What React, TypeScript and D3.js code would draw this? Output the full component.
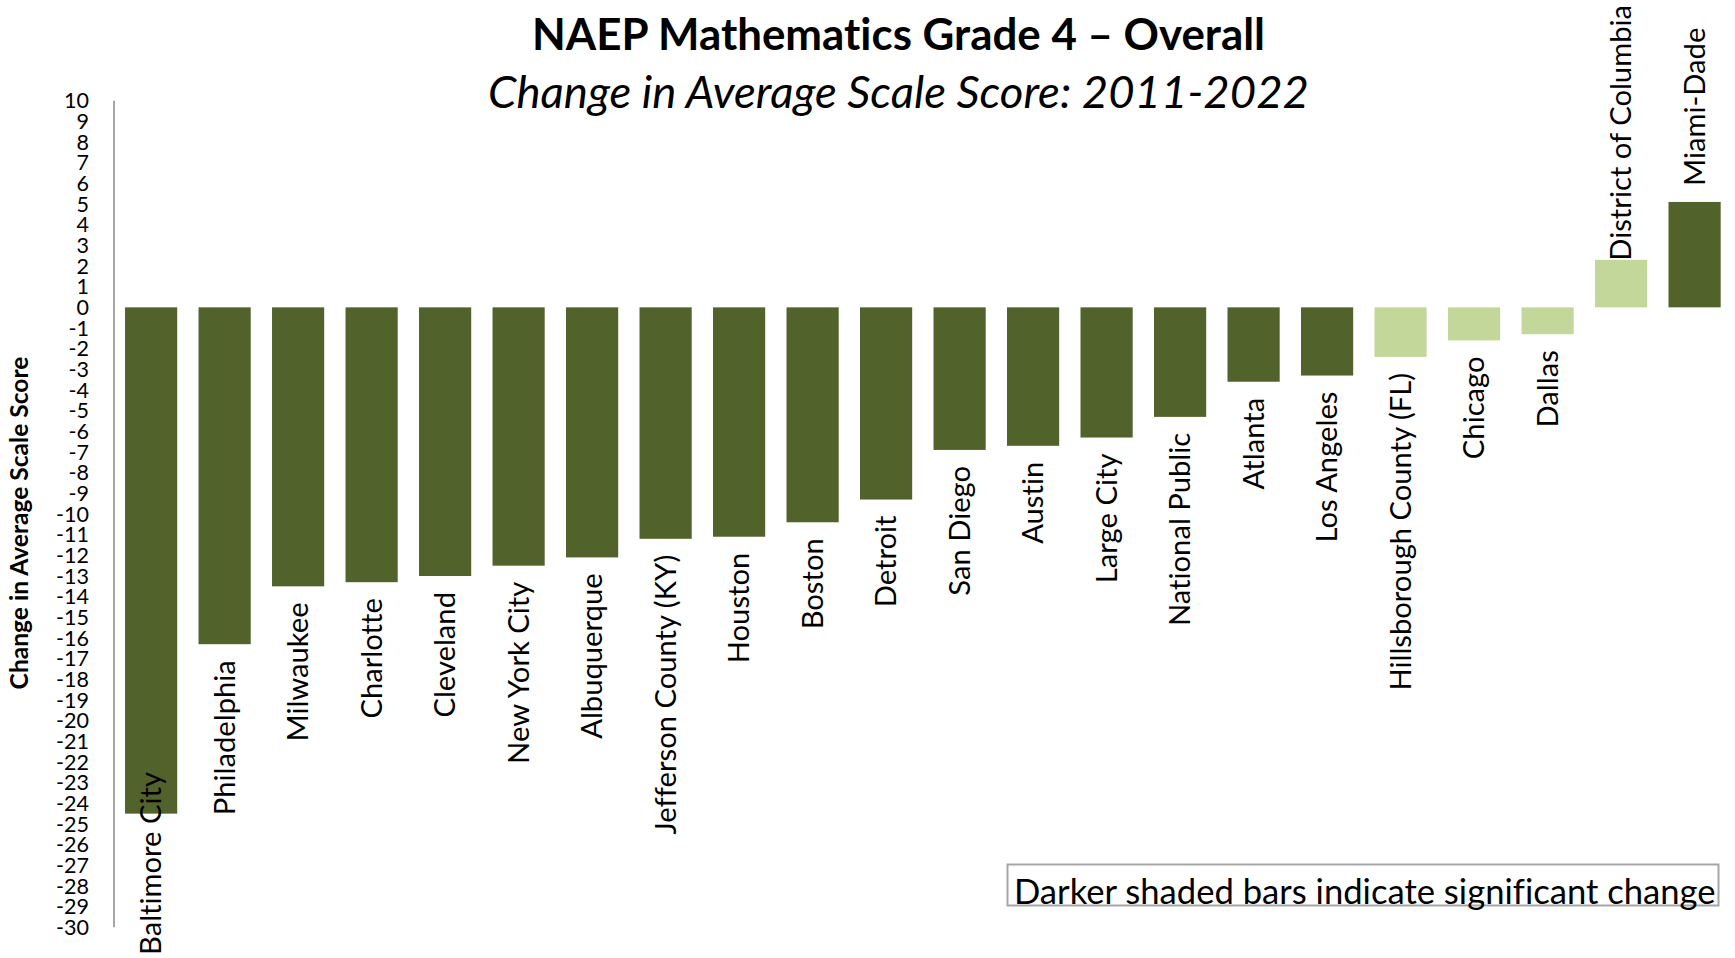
import { useRef, useEffect } from 'react';
import * as d3 from 'd3';

// districts, ordered as in the chart
const districts = [
  'Baltimore City', 'Philadelphia', 'Milwaukee', 'Charlotte', 'Cleveland',
  'New York City', 'Albuquerque', 'Jefferson County (KY)', 'Houston', 'Boston',
  'Detroit', 'San Diego', 'Austin', 'Large City', 'National Public', 'Atlanta',
  'Los Angeles', 'Hillsborough County (FL)', 'Chicago', 'Dallas',
  'District of Columbia', 'Miami-Dade'
];

// change in average scale score 2011-2022
const changes = [
  -24.5, -16.3, -13.5, -13.3, -13.0, -12.5, -12.1, -11.2, -11.1, -10.4,
  -9.3, -6.9, -6.7, -6.3, -5.3, -3.6, -3.3, -2.4, -1.6, -1.3, 2.3, 5.1
];

// true = significant change (darker bar)
const significant = [
  true, true, true, true, true, true, true, true, true, true,
  true, true, true, true, true, true, true, false, false, false, false, true
];

const yTicks = d3.range(-30, 11);

const title = 'NAEP Mathematics Grade 4 \u2013 Overall';
const subtitle = 'Change in Average Scale Score: 2011-2022';
const yTitle = 'Change in Average Scale Score';
const note = 'Darker shaded bars indicate significant change';

const FONT = "Lato, 'Open Sans', sans-serif";

function App() {
  const ref = useRef<SVGSVGElement | null>(null);

  useEffect(() => {
    const svgEl = ref.current;
    if (!svgEl) return;
    const svg = d3.select(svgEl);
    svg.selectAll('*').remove();

    const W = 1735;
    const H = 958;
    svg.attr('width', W).attr('height', H);

    // scale a text element's font so its length matches the picture
    const fit = (t: any, target: number) => {
      const len = t.node().getComputedTextLength();
      const fs = parseFloat(t.attr('font-size'));
      t.attr('font-size', (fs * target) / len);
    };

    const data = districts.map((d, i) => ({ name: d, value: changes[i], sig: significant[i] }));

    const x = d3.scaleBand<string>()
      .domain(districts)
      .range([114, 1731.7])
      .paddingInner(0.29)
      .paddingOuter(0.15);

    const y = d3.scaleLinear().domain([-30, 10]).range([927.3, 100.7]);

    // title
    const t1 = svg.append('text')
      .attr('x', 898.5).attr('y', 49.5)
      .attr('text-anchor', 'middle')
      .attr('font-family', FONT).attr('font-weight', 700)
      .attr('font-size', 40)
      .text(title);
    fit(t1, 733);

    const t2 = svg.append('text')
      .attr('x', 898.5).attr('y', 107.5)
      .attr('text-anchor', 'middle')
      .attr('font-family', FONT).attr('font-style', 'italic')
      .attr('font-size', 40)
      .text(subtitle);
    fit(t2, 821);

    // y axis line
    svg.append('line')
      .attr('x1', 114).attr('x2', 114)
      .attr('y1', y(10)).attr('y2', y(-30))
      .attr('stroke', '#a6a6a6').attr('stroke-width', 2);

    // y tick labels
    const ticks = svg.append('g')
      .attr('font-family', FONT)
      .attr('font-size', 21)
      .attr('text-anchor', 'end');
    ticks.selectAll('text')
      .data(yTicks)
      .enter()
      .append('text')
      .attr('x', 89)
      .attr('y', d => y(d))
      .attr('dy', '0.36em')
      .text(d => String(d));
    const probe = ticks.append('text').text('-30');
    const pl = (probe.node() as SVGTextElement).getComputedTextLength();
    probe.remove();
    ticks.attr('font-size', (21 * 33) / pl);

    // y axis title
    const yt = svg.append('text')
      .attr('transform', 'translate(28,523) rotate(-90)')
      .attr('text-anchor', 'middle')
      .attr('font-family', FONT).attr('font-weight', 700)
      .attr('font-size', 20)
      .text(yTitle);
    fit(yt, 333);

    // bars
    svg.append('g')
      .selectAll('rect')
      .data(data)
      .enter()
      .append('rect')
      .attr('x', d => x(d.name) as number)
      .attr('width', x.bandwidth())
      .attr('y', d => y(Math.max(0, d.value)))
      .attr('height', d => Math.abs(y(d.value) - y(0)))
      .attr('fill', d => (d.sig ? '#52622b' : '#c4d79b'));

    // category labels at the outside end of each bar
    const labels = svg.append('g')
      .attr('font-family', FONT)
      .attr('font-size', 29);
    const lp = labels.append('text').text('Philadelphia');
    const plen = (lp.node() as SVGTextElement).getComputedTextLength();
    lp.remove();
    labels.attr('font-size', (29 * 155) / plen);

    const gap = 16;
    const top = 5;
    const bottom = 955;
    labels.selectAll('text')
      .data(data)
      .enter()
      .append('text')
      .attr('dy', '0.35em')
      .text(d => d.name)
      .each(function (d) {
        const el = this as SVGTextElement;
        const len = el.getComputedTextLength();
        const cx = (x(d.name) as number) + x.bandwidth() / 2;
        let start;
        if (d.value < 0) {
          start = y(d.value) + gap + len;
          if (start > bottom) start = bottom;
        } else {
          start = y(d.value) - gap;
          if (start - len < top) start = top + len;
        }
        d3.select(el)
          .attr('text-anchor', 'start')
          .attr('transform', `translate(${cx},${start}) rotate(-90)`);
      });

    // note box
    svg.append('rect')
      .attr('x', 1007.5).attr('y', 864.5)
      .attr('width', 711).attr('height', 41)
      .attr('fill', 'none')
      .attr('stroke', '#a6a6a6').attr('stroke-width', 2);
    const nt = svg.append('text')
      .attr('x', 1014).attr('y', 904)
      .attr('font-family', FONT)
      .attr('font-size', 30)
      .text(note);
    fit(nt, 702);
  }, []);

  return (
    <svg
      ref={ref}
      style={{ position: 'absolute', left: 0, top: 0, background: '#fff', fontVariantLigatures: 'none' }}
    />
  );
}

export default App;
